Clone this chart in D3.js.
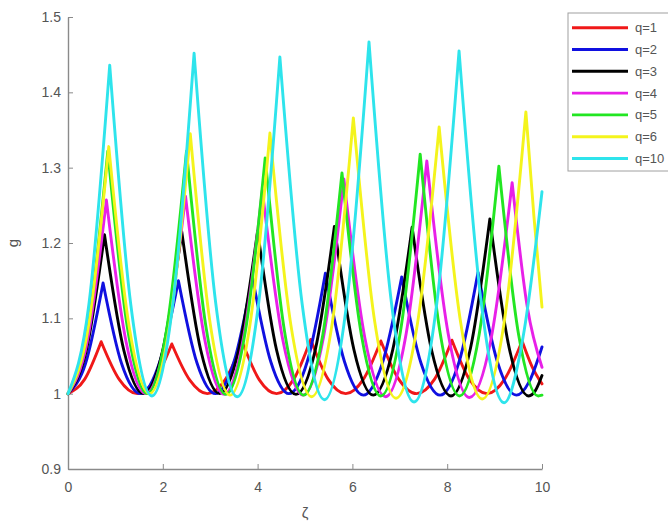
<!DOCTYPE html>
<html>
<head>
<meta charset="utf-8">
<script src="https://cdn.jsdelivr.net/npm/d3@7"></script>
<style>
  body { margin: 0; background: #fff; }
  svg { font-family: "Liberation Sans", Arial, sans-serif; }
</style>
</head>
<body>
<svg id="chart" width="668" height="526"></svg>
<script>
// points: [zeta, g] - min, half-way, peak, half-way, min ...
const q1 = [[0,1],[0.35,1.019],[0.70,1.069],[1.08,1.019],[1.46,1],[1.83,1.018],[2.19,1.066],[2.57,1.018],[2.94,1],[3.31,1.018],[3.68,1.068],[4.04,1.018],[4.40,1],[4.76,1.019],[5.12,1.072],[5.49,1.019],[5.86,1],[6.23,1.019],[6.60,1.070],[6.98,1.019],[7.35,1],[7.73,1.019],[8.10,1.071],[8.47,1.019],[8.84,1],[9.21,1.019],[9.58,1.070],[9.79,1.036],[10,1.013]];
const q2 = [[0,1],[0.37,1.040],[0.74,1.147],[1.13,1.040],[1.53,1],[1.93,1.041],[2.33,1.150],[2.72,1.041],[3.11,1],[3.50,1.042],[3.89,1.155],[4.28,1.042],[4.66,1],[5.05,1.043],[5.43,1.160],[5.83,1.043],[6.23,0.998],[6.63,1.040],[7.04,1.155],[7.45,1.040],[7.85,0.998],[8.25,1.042],[8.65,1.161],[9.06,1.042],[9.46,0.998],[9.73,1.016],[10,1.062]];
const q3 = [[0,1],[0.385,1.057],[0.77,1.211],[1.18,1.057],[1.59,1],[2.00,1.058],[2.40,1.215],[2.80,1.058],[3.20,1],[3.60,1.058],[4.00,1.216],[4.40,1.058],[4.81,0.999],[5.22,1.059],[5.62,1.222],[6.03,1.059],[6.44,0.998],[6.85,1.058],[7.26,1.221],[7.67,1.058],[8.08,0.997],[8.49,1.060],[8.90,1.232],[9.31,1.060],[9.72,0.997],[9.86,1.004],[10,1.024]];
const q4 = [[0,1],[0.405,1.069],[0.81,1.257],[1.225,1.069],[1.64,1],[2.06,1.071],[2.48,1.262],[2.885,1.072],[3.29,0.999],[3.695,1.072],[4.10,1.270],[4.53,1.072],[4.96,0.998],[5.39,1.075],[5.82,1.285],[6.26,1.075],[6.70,0.996],[7.135,1.080],[7.57,1.309],[8.02,1.080],[8.47,0.995],[8.92,1.071],[9.37,1.280],[9.69,1.115],[10,1.035]];
const q5 = [[0,1],[0.42,1.087],[0.84,1.322],[1.255,1.087],[1.67,1],[2.085,1.087],[2.50,1.322],[2.915,1.087],[3.33,0.999],[3.745,1.084],[4.16,1.313],[4.565,1.084],[4.97,0.998],[5.375,1.078],[5.78,1.293],[6.19,1.078],[6.60,0.997],[7.015,1.083],[7.43,1.318],[7.845,1.083],[8.26,0.997],[8.675,1.079],[9.09,1.302],[9.505,1.079],[9.92,0.997],[10,0.998]];
const q6 = [[0,1],[0.43,1.089],[0.86,1.328],[1.29,1.089],[1.72,1],[2.15,1.093],[2.58,1.345],[3.00,1.093],[3.42,0.998],[3.84,1.092],[4.26,1.346],[4.70,1.092],[5.14,0.996],[5.58,1.096],[6.02,1.366],[6.47,1.096],[6.92,0.994],[7.375,1.094],[7.83,1.354],[8.285,1.094],[8.74,0.993],[9.20,1.094],[9.66,1.374],[9.83,1.235],[10,1.115]];
const q10 = [[0,1],[0.44,1.118],[0.88,1.436],[1.325,1.118],[1.77,0.997],[2.215,1.121],[2.66,1.452],[3.115,1.121],[3.57,0.996],[4.02,1.119],[4.47,1.447],[4.94,1.119],[5.41,0.992],[5.88,1.120],[6.35,1.467],[6.825,1.120],[7.30,0.989],[7.775,1.117],[8.25,1.455],[8.725,1.117],[9.20,0.988],[9.60,1.075],[10,1.268]];

const seriesNames = ["q=1", "q=2", "q=3", "q=4", "q=5", "q=6", "q=10"];
const seriesData = [q1, q2, q3, q4, q5, q6, q10];
const seriesColors = ["#f01818", "#1010e0", "#000000", "#e820e8", "#22e622", "#f4f41c", "#2ee4ec"];

const xTicks = [0, 2, 4, 6, 8, 10];
const yTicks = [0.9, 1, 1.1, 1.2, 1.3, 1.4, 1.5];

const svg = d3.select("#chart");
const plotLeft = 68, plotRight = 542, plotTop = 17, plotBottom = 469;

const x = d3.scaleLinear().domain([0, 10]).range([plotLeft, plotRight]);
const y = d3.scaleLinear().domain([0.9, 1.5]).range([plotBottom, plotTop]);

// axes (matlab style: ticks pointing inward, no box)
const axisColor = "#8a8a8a";
const gx = svg.append("g")
    .attr("transform", `translate(0,${plotBottom})`)
    .call(d3.axisBottom(x).tickValues(xTicks).tickSize(-5).tickPadding(13).tickSizeOuter(0));
const gy = svg.append("g")
    .attr("transform", `translate(${plotLeft},0)`)
    .call(d3.axisLeft(y).tickValues(yTicks).tickSize(-5).tickPadding(7).tickSizeOuter(0)
        .tickFormat(d3.format("~g")));

[gx, gy].forEach(g => {
    g.select(".domain").attr("stroke", axisColor).attr("stroke-width", 1.4);
    g.selectAll(".tick line").attr("stroke", axisColor);
    g.selectAll(".tick text").attr("fill", "#555").attr("font-size", 14);
});

svg.append("text")
    .attr("transform", `translate(18,${(plotTop + plotBottom) / 2}) rotate(-90)`)
    .attr("text-anchor", "middle")
    .attr("fill", "#555")
    .attr("font-size", 15)
    .text("g");

svg.append("text")
    .attr("x", (plotLeft + plotRight) / 2)
    .attr("y", 518)
    .attr("text-anchor", "middle")
    .attr("fill", "#555")
    .attr("font-size", 15)
    .text("ζ");

// cut each series at its peaks so the tips stay sharp and the valleys smooth
function splitAtPeaks(pts) {
    const pieces = [];
    let cur = [pts[0]];
    for (let i = 1; i < pts.length; i++) {
        cur.push(pts[i]);
        if (i < pts.length - 1 && pts[i][1] > pts[i - 1][1] && pts[i][1] > pts[i + 1][1]) {
            pieces.push(cur);
            cur = [pts[i]];
        }
    }
    pieces.push(cur);
    return pieces;
}

const line = d3.line()
    .x(d => x(d[0]))
    .y(d => y(d[1]))
    .curve(d3.curveMonotoneX);

seriesData.forEach((pts, i) => {
    const d = splitAtPeaks(pts)
        .map((p, k) => k === 0 ? line(p) : line(p).replace(/^M/, "L"))
        .join("");
    svg.append("path")
        .attr("d", d)
        .attr("fill", "none")
        .attr("stroke", seriesColors[i])
        .attr("stroke-width", 2.9)
        .attr("stroke-linejoin", "round")
        .attr("stroke-linecap", "round");
});

// legend
const legend = svg.append("g");
legend.append("rect")
    .attr("x", 568).attr("y", 13)
    .attr("width", 120).attr("height", 158)
    .attr("fill", "#fff")
    .attr("stroke", "#a0a0a0")
    .attr("stroke-width", 1);

seriesNames.forEach((name, i) => {
    const ly = 27.7 + i * 21.8;
    legend.append("line")
        .attr("x1", 572).attr("x2", 628)
        .attr("y1", ly).attr("y2", ly)
        .attr("stroke", seriesColors[i])
        .attr("stroke-width", 2.9);
    legend.append("text")
        .attr("x", 635).attr("y", ly)
        .attr("dy", "0.35em")
        .attr("fill", "#555")
        .attr("font-size", 13)
        .text(name);
});
</script>
</body>
</html>
